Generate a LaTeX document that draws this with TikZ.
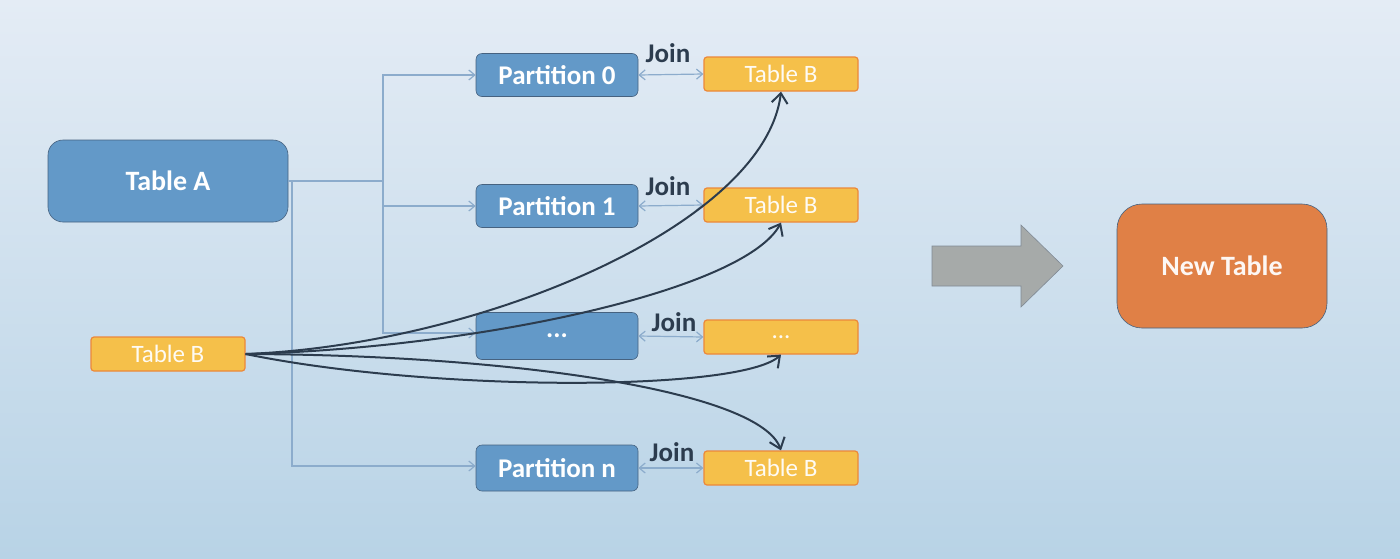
\documentclass[tikz,border=0pt]{standalone}
\usepackage{fontspec}
\setmainfont{Carlito}
\usepackage{tikz}
\usetikzlibrary{arrows.meta,positioning}
\definecolor{bgtop}{RGB}{228,236,245}
\definecolor{bgbot}{RGB}{184,211,230}
\definecolor{part}{RGB}{99,153,200}
\definecolor{partedge}{RGB}{70,98,128}
\definecolor{tabb}{RGB}{245,192,74}
\definecolor{tabbedge}{RGB}{236,136,58}
\definecolor{newtab}{RGB}{224,128,70}
\definecolor{linkc}{RGB}{140,172,204}
\definecolor{flowc}{RGB}{44,60,78}
\definecolor{bigarrow}{RGB}{166,170,169}

\begin{document}
\begin{tikzpicture}[x=0.5pt,y=-0.5pt,
  partbox/.style={draw=partedge, line width=0.3pt, fill=part, rounded corners=3pt, minimum width=81pt, minimum height=21.5pt, inner sep=0pt, text=white, font=\fontsize{13.5}{15}\selectfont\bfseries},
  tabbox/.style={draw=tabbedge, line width=0.6pt, fill=tabb, rounded corners=1.5pt, minimum width=77pt, minimum height=17pt, inner sep=0pt, text=white!94!tabb, font=\fontsize{12.5}{14}\selectfont},
  joinlbl/.style={text=flowc, font=\fontsize{13.5}{15}\selectfont\bfseries, inner sep=0pt},
  link/.style={draw=linkc, line width=0.6pt, -{Straight Barb[length=3pt,width=5pt]}},
  flow/.style={draw=flowc, line width=1pt, -{Straight Barb[length=5pt,width=8pt]}}]

\fill [top color=bgtop, bottom color=bgbot] (0,0) rectangle (1400,558);
\useasboundingbox (0,0) rectangle (1400,558);

% left side
\node [partbox, minimum width=120pt, minimum height=41pt, rounded corners=7.5pt, font=\fontsize{14}{16}\selectfont\bfseries] (tA) at (168,181) {Table A};
\node [tabbox] (tbB) at (168,354) {Table B};

% partitions and their joins
\node [partbox] (p0) at (557,75) {Partition 0};
\node [partbox] (p1) at (557,206) {Partition 1};
\node [partbox, minimum height=23.5pt] (pd) at (557,336) {...};
\node [partbox, minimum height=23pt] (pn) at (557,468) {Partition n};

\node [tabbox] (tb0) at (781,74) {Table B};
\node [tabbox] (tb1) at (781,205) {Table B};
\node [tabbox] (tbd) at (781,337) {...};
\node [tabbox] (tbn) at (781,468) {Table B};

\node [joinlbl] (j0) at (668,53) {Join};
\node [joinlbl] (j1) at (668,186) {Join};
\node [joinlbl] (jd) at (674,322) {Join};
\node [joinlbl] (jn) at (672,452) {Join};

% result
\fill [bigarrow, draw=flowc!60, line width=0.3pt] (932,246) -- (1021,246) -- (1021,225) -- (1063,266) -- (1021,307) -- (1021,286) -- (932,286) -- cycle;
\node [draw=partedge, line width=0.3pt, fill=newtab, rounded corners=12.5pt, minimum width=105pt, minimum height=62pt, text=white!94!newtab, font=\fontsize{14}{16}\selectfont\bfseries] (nt) at (1222,266) {New Table};

% Table A split
\coordinate (split) at (383,181);
\coordinate (drop) at (292,181);
\draw [linkc, line width=0.6pt] (tA.east) -- (split);
\draw [link] (split) |- (p0.west);
\draw [link] (split) |- (p1.west);
\draw [link] (split) |- ([yshift=1.5pt]pd.west);
\draw [link] (drop) |- ([yshift=1pt]pn.west);

\draw [link, {Straight Barb[length=3pt,width=5pt]}-{Straight Barb[length=3pt,width=5pt]}] (p0.east) -- (tb0.west);
\draw [link, {Straight Barb[length=3pt,width=5pt]}-{Straight Barb[length=3pt,width=5pt]}] (p1.east) -- (tb1.west);
\draw [link, {Straight Barb[length=3pt,width=5pt]}-{Straight Barb[length=3pt,width=5pt]}] (pd.east) -- (tbd.west);
\draw [link, {Straight Barb[length=3pt,width=5pt]}-{Straight Barb[length=3pt,width=5pt]}] (pn.east) -- (tbn.west);

% Table B sent to every partition
\draw [flow] (tbB.east) .. controls (480,345) and (765,225) .. (tb0.south);
\draw [flow] (tbB.east) .. controls (480,348) and (745,290) .. (tb1.south);
\draw [flow] (tbB.east) .. controls (430,392) and (740,392) .. (tbd.south);
\draw [flow] (tbB.east) .. controls (520,355) and (760,392) .. (tbn.north);

\end{tikzpicture}
\end{document}
